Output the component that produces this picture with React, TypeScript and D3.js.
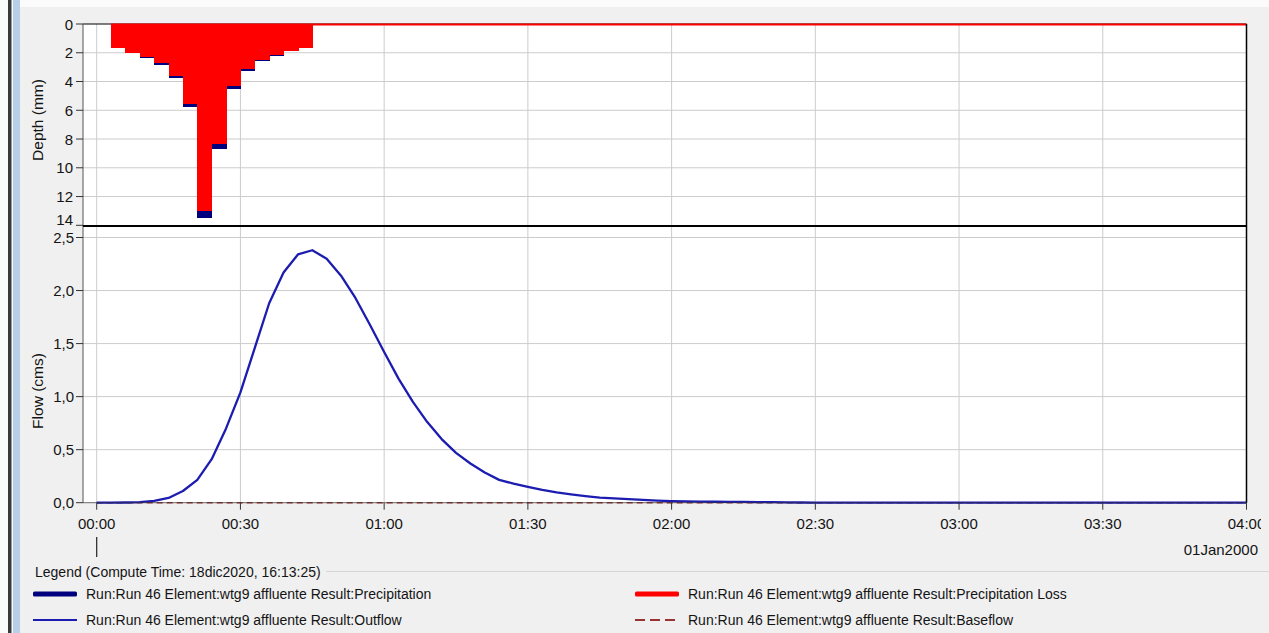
import React from 'react';
import * as d3 from 'd3';

// HEC-HMS style result graph: precipitation hyetograph on top, outflow hydrograph below.

const W = 1269;
const H = 633;
const PLOT = { left: 83, right: 1246.5, top: 24, split: 226, bottom: 502.7 };
const FONT = '"Liberation Sans", Arial, sans-serif';

// precipitation, 3-minute intervals (start minute of each interval)
const PRECIP_STEP_MIN = 3;
const PRECIP_START_MIN = [3, 6, 9, 12, 15, 18, 21, 24, 27, 30, 33, 36, 39, 42];
const PRECIP_MM = [1.7, 2.02, 2.35, 2.88, 3.73, 5.78, 13.5, 8.68, 4.52, 3.25, 2.56, 2.2, 1.9, 1.64];
const LOSS_MM = [1.7, 1.99, 2.28, 2.74, 3.59, 5.58, 13.0, 8.33, 4.32, 3.11, 2.48, 2.13, 1.85, 1.64];

const OUTFLOW_MIN = [
  0, 3, 6, 9, 12, 15, 18, 21, 24, 27, 30, 33, 36, 39, 42, 45, 48, 51, 54, 57, 60, 63, 66, 69, 72, 75,
  78, 81, 84, 87, 90, 93, 96, 99, 102, 105, 108, 111, 114, 117, 120, 123, 126, 129, 132, 135, 138,
  141, 144, 147, 150, 240,
];
const OUTFLOW_CMS = [
  0, 0, 0.002, 0.006, 0.018, 0.045, 0.11, 0.215, 0.41, 0.7, 1.04, 1.46, 1.88, 2.17, 2.34, 2.38, 2.3,
  2.14, 1.93, 1.68, 1.42, 1.17, 0.95, 0.76, 0.6, 0.47, 0.37, 0.285, 0.215, 0.18, 0.15, 0.12, 0.097,
  0.078, 0.062, 0.048, 0.04, 0.033, 0.026, 0.02, 0.015, 0.012, 0.01, 0.009, 0.008, 0.007, 0.006,
  0.005, 0.004, 0.002, 0, 0,
];
const BASEFLOW_MIN = [0, 240];
const BASEFLOW_CMS = [0, 0];

const TIME_TICKS_MIN = [0, 30, 60, 90, 120, 150, 180, 210, 240];
const TIME_TICK_LABELS = ['00:00', '00:30', '01:00', '01:30', '02:00', '02:30', '03:00', '03:30', '04:00'];
const DATE_LABEL = '01Jan2000';
const DEPTH_TICKS = [0, 2, 4, 6, 8, 10, 12, 14];
const FLOW_TICKS = [0, 0.5, 1, 1.5, 2, 2.5];

const LEGEND_TITLE = 'Legend (Compute Time: 18dic2020, 16:13:25)';
const LEGEND_ITEMS = [
  { label: 'Run:Run 46 Element:wtg9 affluente Result:Precipitation', kind: 'precip' },
  { label: 'Run:Run 46 Element:wtg9 affluente Result:Precipitation Loss', kind: 'loss' },
  { label: 'Run:Run 46 Element:wtg9 affluente Result:Outflow', kind: 'outflow' },
  { label: 'Run:Run 46 Element:wtg9 affluente Result:Baseflow', kind: 'baseflow' },
];

const NAVY = '#00007f';
const RED = '#ff0000';
const OUTFLOW_BLUE = '#1c1cb0';
const BASEFLOW_RED = '#993333';
const GRID = '#cccccc';
const TEXT = '#141414';

const commaFmt = d3.formatLocale({
  decimal: ',',
  thousands: '.',
  grouping: [3],
  currency: ['', ''],
}).format('.1f');

export default function App() {
  const x = d3.scaleLinear().domain([0, 240]).range([96.7, PLOT.right]);
  const depth = d3.scaleLinear().domain([0, 14]).range([PLOT.top, 225.3]);
  const flow = d3.scaleLinear().domain([0, 2.5]).range([PLOT.bottom, 237.5]);

  const outflowLine = d3
    .line<number>()
    .x((_, i) => x(OUTFLOW_MIN[i]))
    .y((v) => flow(v))(OUTFLOW_CMS) ?? '';
  const baseLine = d3
    .line<number>()
    .x((_, i) => x(BASEFLOW_MIN[i]))
    .y((v) => flow(v))(BASEFLOW_CMS) ?? '';

  const lossEnd = TIME_TICKS_MIN[TIME_TICKS_MIN.length - 1];

  return (
    <div style={{ position: 'fixed', left: 0, top: 0 }}>
      <svg width={W} height={H} style={{ display: 'block', fontFamily: FONT }}>
        <defs>
          <clipPath id="tick-clip">
            <rect x={0} y={0} width={1261} height={H} />
          </clipPath>
        </defs>

        {/* window chrome + panel */}
        <rect x={0} y={0} width={W} height={H} fill="#fbfbfb" />
        <rect x={20} y={7} width={W - 20} height={H - 7} fill="#f0f0f0" />
        <rect x={8} y={0} width={3.5} height={H} fill="#3a3a3a" />
        <rect x={13} y={0} width={7} height={H} fill="#b7d0ea" />

        {/* plot backgrounds */}
        <rect x={PLOT.left} y={PLOT.top} width={PLOT.right - PLOT.left} height={PLOT.bottom - PLOT.top} fill="#fff" />

        {/* gridlines */}
        <g stroke={GRID} strokeWidth={1}>
          {DEPTH_TICKS.slice(1, -1).map((d) => (
            <line key={`dg${d}`} x1={PLOT.left} x2={PLOT.right} y1={depth(d)} y2={depth(d)} />
          ))}
          {FLOW_TICKS.map((f) => (
            <line key={`fg${f}`} x1={PLOT.left} x2={PLOT.right} y1={flow(f)} y2={flow(f)} />
          ))}
          {TIME_TICKS_MIN.slice(0, -1).map((t) => (
            <line key={`tg${t}`} x1={x(t)} x2={x(t)} y1={PLOT.top} y2={PLOT.bottom} />
          ))}
        </g>

        {/* precipitation bars (navy) with loss on top (red) */}
        <g shapeRendering="crispEdges">
          {PRECIP_MM.map((p, i) => (
            <rect
              key={`p${i}`}
              x={x(PRECIP_START_MIN[i])}
              y={PLOT.top}
              width={x(PRECIP_START_MIN[i] + PRECIP_STEP_MIN) - x(PRECIP_START_MIN[i]) + 0.6}
              height={depth(p) - PLOT.top}
              fill={NAVY}
            />
          ))}
          {LOSS_MM.map((l, i) => (
            <rect
              key={`l${i}`}
              x={x(PRECIP_START_MIN[i])}
              y={PLOT.top}
              width={x(PRECIP_START_MIN[i] + PRECIP_STEP_MIN) - x(PRECIP_START_MIN[i]) + 0.6}
              height={depth(l) - PLOT.top}
              fill={RED}
            />
          ))}
        </g>

        {/* top frame */}
        <line x1={PLOT.left} x2={PLOT.right} y1={PLOT.top} y2={PLOT.top} stroke="#000" strokeWidth={1} />
        <line
          x1={x(PRECIP_START_MIN[0])}
          x2={x(lossEnd)}
          y1={PLOT.top + 0.5}
          y2={PLOT.top + 0.5}
          stroke={RED}
          strokeWidth={2}
        />

        {/* flow series */}
        <path d={baseLine} fill="none" stroke={BASEFLOW_RED} strokeWidth={1.5} strokeDasharray="6,4" />
        <path d={outflowLine} fill="none" stroke={OUTFLOW_BLUE} strokeWidth={2.3} strokeLinejoin="round" />

        {/* axes and frames */}
        <line x1={PLOT.left} x2={PLOT.left} y1={PLOT.top} y2={PLOT.bottom} stroke="#555" strokeWidth={1} />
        <line x1={PLOT.right} x2={PLOT.right} y1={PLOT.top} y2={PLOT.bottom} stroke="#000" strokeWidth={1.5} />
        <line x1={PLOT.left} x2={PLOT.right} y1={PLOT.split} y2={PLOT.split} stroke="#000" strokeWidth={2.2} />
        <line x1={PLOT.left} x2={PLOT.right} y1={PLOT.bottom} y2={PLOT.bottom} stroke="#333" strokeWidth={1} opacity={0.6} />

        {/* depth axis */}
        <g fontSize={15} fill={TEXT} textAnchor="end">
          {DEPTH_TICKS.map((d, i) => {
            const y = depth(d);
            const last = i === DEPTH_TICKS.length - 1;
            return (
              <g key={`dt${d}`}>
                <line x1={76} x2={PLOT.left} y1={y} y2={y} stroke="#333" />
                <text x={73} y={last ? y - 6 : y} dominantBaseline="central">
                  {String(d)}
                </text>
              </g>
            );
          })}
        </g>
        <text
          transform={`translate(37, ${(PLOT.top + PLOT.split) / 2 - 5}) rotate(-90)`}
          textAnchor="middle"
          dominantBaseline="central"
          fontSize={15.5}
          fill={TEXT}
        >
          Depth (mm)
        </text>

        {/* flow axis */}
        <g fontSize={15} fill={TEXT} textAnchor="end">
          {FLOW_TICKS.map((f) => (
            <g key={`ft${f}`}>
              <line x1={76} x2={PLOT.left} y1={flow(f)} y2={flow(f)} stroke="#333" />
              <text x={74} y={flow(f)} dominantBaseline="central">
                {commaFmt(f)}
              </text>
            </g>
          ))}
        </g>
        <text
          transform={`translate(37, 391) rotate(-90)`}
          textAnchor="middle"
          dominantBaseline="central"
          fontSize={15.5}
          fill={TEXT}
        >
          Flow (cms)
        </text>

        {/* time axis */}
        <g fontSize={15} fill={TEXT} textAnchor="middle" clipPath="url(#tick-clip)">
          {TIME_TICKS_MIN.map((t, i) => (
            <g key={`tt${t}`}>
              <line x1={x(t)} x2={x(t)} y1={PLOT.bottom} y2={PLOT.bottom + 7} stroke="#333" />
              <text x={x(t)} y={523} dominantBaseline="central">
                {TIME_TICK_LABELS[i]}
              </text>
            </g>
          ))}
        </g>
        <text x={1258} y={549} textAnchor="end" dominantBaseline="central" fontSize={15} fill={TEXT}>
          {DATE_LABEL}
        </text>
        <line x1={x(0)} x2={x(0)} y1={537} y2={557} stroke="#222" strokeWidth={1.2} />

        {/* legend */}
        <text x={35} y={572} dominantBaseline="central" fontSize={14} fill={TEXT}>
          {LEGEND_TITLE}
        </text>
        <line x1={326} x2={W} y1={571.5} y2={571.5} stroke="#d6d6d6" />
        {LEGEND_ITEMS.map((item, i) => {
          const col = i % 2;
          const row = Math.floor(i / 2);
          const sx = col === 0 ? 33 : 635;
          const tx = col === 0 ? 86 : 688;
          const y = row === 0 ? 594 : 620;
          let swatch;
          if (item.kind === 'precip' || item.kind === 'loss') {
            swatch = (
              <rect x={sx} y={y - 2.5} width={44} height={5} rx={1.5} fill={item.kind === 'precip' ? NAVY : RED} />
            );
          } else if (item.kind === 'outflow') {
            swatch = <line x1={sx} x2={sx + 44} y1={y} y2={y} stroke={OUTFLOW_BLUE} strokeWidth={2} />;
          } else {
            swatch = (
              <line
                x1={sx}
                x2={sx + 44}
                y1={y}
                y2={y}
                stroke={BASEFLOW_RED}
                strokeWidth={2}
                strokeDasharray="10,5"
              />
            );
          }
          return (
            <g key={item.label}>
              {swatch}
              <text x={tx} y={y} dominantBaseline="central" fontSize={14} fill={TEXT}>
                {item.label}
              </text>
            </g>
          );
        })}
      </svg>
    </div>
  );
}
